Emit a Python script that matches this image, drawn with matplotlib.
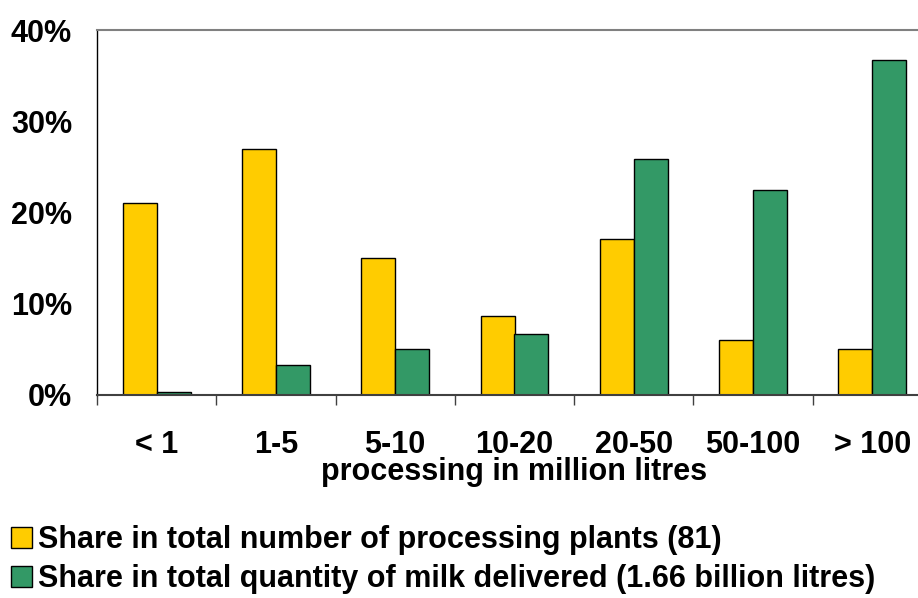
#!/usr/bin/env python3
"""Processing plants by size class: share of plants vs share of milk delivered."""
import matplotlib

matplotlib.use("Agg")
import matplotlib.pyplot as plt
import numpy as np
from matplotlib.patches import Patch
from matplotlib.ticker import FuncFormatter, MultipleLocator

plt.rcParams["font.family"] = ["Liberation Sans", "DejaVu Sans"]
plt.rcParams["font.weight"] = "bold"

categories = ["< 1", "1-5", "5-10", "10-20", "20-50", "50-100", "> 100"]
plants_share = [21.0, 27.0, 15.0, 8.7, 17.1, 6.0, 5.0]
milk_share = [0.3, 3.3, 5.0, 6.7, 25.9, 22.5, 36.7]
series_labels = [
    "Share in total number of processing plants (81)",
    "Share in total quantity of milk delivered (1.66 billion litres)",
]

YELLOW = "#FFCC00"
GREEN = "#339966"
FS = 22

fig = plt.figure(figsize=(9.18, 5.98), dpi=100)
ax = fig.add_axes([97 / 918, 1 - 395 / 598, 835 / 918, 365 / 598])

x = np.arange(len(categories))
w = 0.285
ax.bar(x - w / 2, plants_share, w, color=YELLOW, edgecolor="black", linewidth=1.0)
ax.bar(x + w / 2, milk_share, w, color=GREEN, edgecolor="black", linewidth=1.0)

ax.set_xlim(-0.5, len(categories) - 0.5)
ax.set_ylim(0, 40)
ax.yaxis.set_major_locator(MultipleLocator(10))
ax.yaxis.set_major_formatter(FuncFormatter(lambda v, _: f"{v:.0f}%"))
ax.tick_params(axis="y", length=0, pad=18, labelsize=FS)

ax.set_xticks(x)
ax.set_xticklabels(categories, fontsize=FS, fontweight="bold")
ax.set_xticks(np.arange(len(categories) + 1) - 0.5, minor=True)
ax.tick_params(axis="x", which="major", length=0, pad=25)
ax.tick_params(axis="x", which="minor", length=7.5, width=1.0, color="#404040", direction="out")
ax.set_xlabel("processing in million litres", fontsize=FS, fontweight="bold", labelpad=-2)

ax.spines["top"].set_color("#808080")
ax.spines["top"].set_linewidth(1.5)
ax.spines["bottom"].set_color("#404040")
ax.spines["bottom"].set_linewidth(1.5)
ax.spines["left"].set_color("black")
ax.spines["left"].set_linewidth(1.0)
ax.spines["right"].set_visible(False)

handles = [
    Patch(facecolor=YELLOW, edgecolor="black", linewidth=1.0),
    Patch(facecolor=GREEN, edgecolor="black", linewidth=1.0),
]
fig.legend(
    handles,
    series_labels,
    loc="lower left",
    bbox_to_anchor=(5 / 918, -2 / 598),
    frameon=False,
    prop={"weight": "bold", "size": FS},
    handlelength=0.68,
    handleheight=0.68,
    handletextpad=0.2,
    labelspacing=0.3,
    borderpad=0.2,
    borderaxespad=0.0,
)

fig.savefig("out.png", dpi=100, facecolor="white")
